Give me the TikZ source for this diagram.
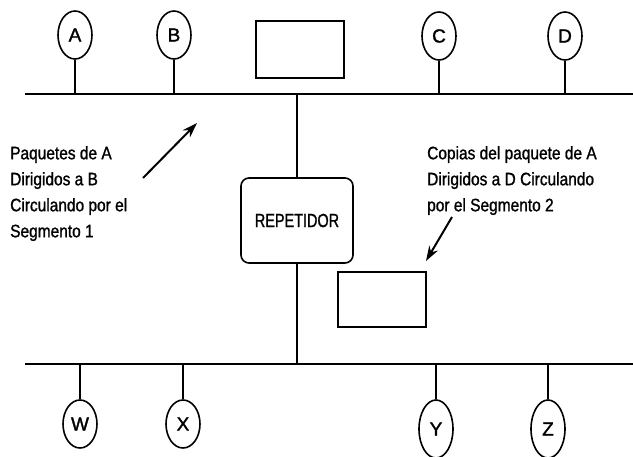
\documentclass[tikz,border=0pt]{standalone}
\usepackage{fontspec}
\setmainfont{Liberation Sans}
\newfontfamily\notefont{Liberation Sans}[FakeStretch=0.86, FakeBold=1.2]
\newfontfamily\repfont{Liberation Sans}[FakeStretch=0.76, FakeBold=1.2]
\newfontfamily\stfont{Liberation Sans}[FakeBold=1.5]
\usetikzlibrary{shapes,arrows.meta,positioning}

\begin{document}
\begin{tikzpicture}[
    x=1pt, y=-1pt,
    station/.style={draw, ellipse, line width=1.6pt, minimum width=34pt, minimum height=48pt, inner sep=0pt, font=\stfont\fontsize{19}{19}\selectfont},
    frame/.style={draw, line width=1.6pt, minimum width=88pt},
    repeater/.style={draw, line width=1.6pt, rounded corners=8pt, minimum width=112pt, minimum height=85pt, font=\repfont\fontsize{19}{19}\selectfont},
    note/.style={anchor=north west, align=left, inner sep=0pt, font=\notefont\fontsize{18}{26}\selectfont},
    link/.style={line width=1.6pt},
    pointer/.style={-{Stealth[length=15pt,width=10pt]}, line width=2pt}
]
\useasboundingbox (0,0) rectangle (633,456);

% segmento 1
\coordinate (seg1w) at (25,94);
\coordinate (seg1e) at (633,94);
\node[station] (A) at (75,35) {A};
\node[station] (B) at (174,35) {B};
\node[station] (C) at (439,36) {C};
\node[station] (D) at (565,36) {D};
\node[frame, minimum height=57pt] (F1) at (300,49.5) {};

% segmento 2
\coordinate (seg2w) at (25,364);
\coordinate (seg2e) at (633,364);
\node[station] (W) at (80,424) {W};
\node[station] (X) at (183,424) {X};
\node[station, minimum height=58pt] (Y) at (436,429) {Y};
\node[station, minimum height=58pt] (Z) at (548,429) {Z};
\node[frame, minimum height=55pt] (F2) at (382,299.5) {};

\node[repeater] (R) at (297,220.5) {REPETIDOR};

\draw[link] (seg1w) -- (seg1e);
\draw[link] (seg2w) -- (seg2e);
\foreach \s in {A,B,C,D} \draw[link] (\s.south) -- (\s.south |- seg1w);
\foreach \s in {W,X,Y,Z} \draw[link] (\s.north) -- (\s.north |- seg2w);
\draw[link] (R.north) -- (R.north |- seg1w);
\draw[link] (R.south) -- (R.south |- seg2w);

% notas
\node[note] (N1) at (10,146) {Paquetes de A\\Dirigidos a B\\Circulando por el\\Segmento 1};
\node[note] (N2) at (427,146) {Copias del paquete de A\\Dirigidos a D Circulando\\por el Segmento 2};
\coordinate (p1s) at (143,178);
\coordinate (p1e) at (197,123);
\coordinate (p2s) at (452,217);
\coordinate (p2e) at (426,261);
\draw[pointer] (p1s) -- (p1e);
\draw[pointer] (p2s) -- (p2e);
\end{tikzpicture}
\end{document}
